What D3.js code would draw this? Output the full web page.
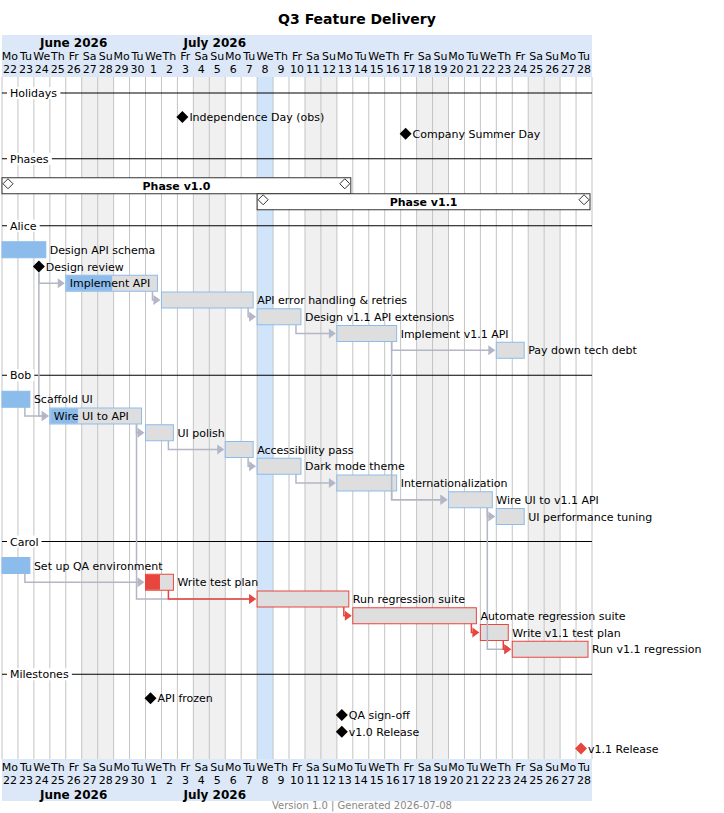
<!DOCTYPE html>
<html><head><meta charset="utf-8">
<script src="https://cdn.jsdelivr.net/npm/d3@7"></script>
<style>body{margin:0;background:#fff;font-family:"DejaVu Sans",sans-serif}</style>
</head><body><div id="chart"></div>
<script>
const startDate = "2026-06-22", endDate = "2026-07-29", todayDate = "2026-07-08";
const holidays = [["Independence Day (obs)", "2026-07-03"], ["Company Summer Day", "2026-07-17"]];
const phases = [["Phase v1.0", "2026-06-22", "2026-07-13"], ["Phase v1.1", "2026-07-08", "2026-07-28"]];
// [id, name, start, end(inclusive), complete %, critical]
const aliceTasks = [
  ["das", "Design API schema", "2026-06-22", "2026-06-24", 100, false],
  ["dr", "Design review", "2026-06-24", null, 0, false],
  ["ia", "Implement API", "2026-06-26", "2026-07-01", 50, false],
  ["aeh", "API error handling & retries", "2026-07-02", "2026-07-07", 0, false],
  ["d11", "Design v1.1 API extensions", "2026-07-08", "2026-07-10", 0, false],
  ["i11", "Implement v1.1 API", "2026-07-13", "2026-07-16", 0, false],
  ["ptd", "Pay down tech debt", "2026-07-23", "2026-07-24", 0, false]
];
const bobTasks = [
  ["sui", "Scaffold UI", "2026-06-22", "2026-06-23", 100, false],
  ["wui", "Wire UI to API", "2026-06-25", "2026-06-30", 30, false],
  ["uip", "UI polish", "2026-07-01", "2026-07-02", 0, false],
  ["acc", "Accessibility pass", "2026-07-06", "2026-07-07", 0, false],
  ["dmt", "Dark mode theme", "2026-07-08", "2026-07-10", 0, false],
  ["i18n", "Internationalization", "2026-07-13", "2026-07-16", 0, false],
  ["w11", "Wire UI to v1.1 API", "2026-07-20", "2026-07-22", 0, false],
  ["upt", "UI performance tuning", "2026-07-23", "2026-07-24", 0, false]
];
const carolTasks = [
  ["qae", "Set up QA environment", "2026-06-22", "2026-06-23", 100, false],
  ["wtp", "Write test plan", "2026-07-01", "2026-07-02", 50, true],
  ["rrs", "Run regression suite", "2026-07-08", "2026-07-13", 0, true],
  ["ars", "Automate regression suite", "2026-07-14", "2026-07-21", 0, true],
  ["w11tp", "Write v1.1 test plan", "2026-07-22", "2026-07-23", 0, true],
  ["r11", "Run v1.1 regression", "2026-07-24", "2026-07-28", 0, true]
];
const milestones = [
  ["apf", "API frozen", "2026-07-01", null, 0, false],
  ["qas", "QA sign-off", "2026-07-13", null, 0, false],
  ["v10", "v1.0 Release", "2026-07-13", null, 0, false],
  ["v11", "v1.1 Release", "2026-07-28", null, 0, true]
];
const links = [
  ["dr", "ia"], ["dr", "wui"], ["sui", "wui"], ["ia", "aeh"], ["aeh", "d11"], ["d11", "i11"],
  ["i11", "ptd"], ["i11", "w11"], ["wui", "uip"], ["wui", "rrs"], ["uip", "acc"], ["acc", "dmt"],
  ["dmt", "i18n"], ["i18n", "w11"], ["w11", "upt"], ["w11", "r11"], ["qae", "wtp"],
  ["wtp", "rrs"], ["rrs", "ars"], ["ars", "w11tp"], ["w11tp", "r11"]
];
const dayNames = ["Su", "Mo", "Tu", "We", "Th", "Fr", "Sa"];
const monthLabels = [["June 2026", "2026-06-22", "2026-07-01"], ["July 2026", "2026-07-01", "2026-07-29"]];

const W = 724, H = 813;
const parse = d3.utcParse("%Y-%m-%d");
const days = d3.utcDay.range(parse(startDate), parse(endDate));
const x = d3.scaleUtc().domain([parse(startDate), parse(endDate)]).range([2, 592]);
const dw = x(days[1]) - x(days[0]);
const nextDay = s => d3.utcDay.offset(parse(s), 1);
const gridTop = 77, gridBottom = 759;

const svg = d3.select("#chart").append("svg").attr("width", W).attr("height", H)
  .style("font-family", "DejaVu Sans, sans-serif");

svg.append("text").attr("x", W / 2 - 5).attr("y", 24).attr("text-anchor", "middle")
  .attr("font-size", 14).attr("font-weight", "bold").text("Q3 Feature Delivery");

// day columns
const g = svg.append("g");
g.selectAll("rect.day").data(days).join("rect")
  .attr("x", d => x(d)).attr("y", gridTop).attr("width", dw).attr("height", gridBottom - gridTop)
  .attr("fill", d => +d === +parse(todayDate) ? "#d0e4fa" : (d.getUTCDay() % 6 === 0 ? "#f0f0f0" : "#fff"));
g.selectAll("line.grid").data(days.concat([parse(endDate)])).join("line")
  .attr("x1", d => x(d)).attr("x2", d => x(d)).attr("y1", gridTop).attr("y2", gridBottom)
  .attr("stroke", "#c4c4c4").attr("stroke-width", 1);

// headers
function header(y0, atTop) {
  const h = svg.append("g");
  h.append("rect").attr("x", 2).attr("y", y0).attr("width", x(parse(endDate)) - 2).attr("height", 42).attr("fill", "#dce8f7");
  const mY = atTop ? y0 + 12 : y0 + 40, dnY = atTop ? y0 + 25 : y0 + 12, dY = atTop ? y0 + 38 : y0 + 25;
  monthLabels.forEach(([m, a]) => h.append("text").attr("x", x(parse(a)) + 38).attr("y", mY)
    .attr("font-size", 12).attr("font-weight", "bold").text(m));
  h.selectAll("text.dn").data(days).join("text").attr("class", "dn")
    .attr("x", d => x(d) + dw / 2).attr("y", dnY).attr("text-anchor", "middle").attr("font-size", 11)
    .text(d => dayNames[d.getUTCDay()]);
  h.selectAll("text.dd").data(days).join("text").attr("class", "dd")
    .attr("x", d => x(d) + dw / 2).attr("y", dY).attr("text-anchor", "middle").attr("font-size", 11)
    .text(d => d.getUTCDate());
}
header(35, true);
header(gridBottom, false);

// layout rows
const sections = [
  ["Holidays", holidays.map(h => ["h_" + h[1], h[0], h[1], null, 0, false])],
  ["Phases", []],
  ["Alice", aliceTasks], ["Bob", bobTasks], ["Carol", carolTasks], ["Milestones", milestones]
];
const pos = {};
let y = 93;
const step = 16.75;
const marks = svg.append("g"), labels = svg.append("g");
sections.forEach(([name, items]) => {
  marks.append("line").attr("x1", 2).attr("x2", 592).attr("y1", y).attr("y2", y).attr("stroke", "#000");
  const t = labels.append("text").attr("x", 10).attr("y", y + 4).attr("font-size", 11).text(name);
  const bb = t.node().getBBox();
  marks.append("rect").attr("x", 7).attr("y", y - 6).attr("width", bb.width + 6).attr("height", 12).attr("fill", "#fff");
  if (name === "Phases") {
    y += 27;
    phases.forEach(([pn, a, b]) => {
      const x0 = x(parse(a)), x1 = x(nextDay(b)) - 2;
      marks.append("rect").attr("x", x0).attr("y", y - 8).attr("width", x1 - x0).attr("height", 16)
        .attr("fill", "#fff").attr("stroke", "#333");
      [x0 + 6, x1 - 6].forEach(cx => marks.append("path")
        .attr("d", `M${cx},${y - 7}l5,5l-5,5l-5,-5z`).attr("fill", "#fff").attr("stroke", "#333"));
      labels.append("text").attr("x", (x0 + x1) / 2).attr("y", y + 4).attr("text-anchor", "middle")
        .attr("font-size", 11).attr("font-weight", "bold").text(pn);
      y += 16;
    });
    y += 8;
    return;
  }
  y += 24;
  items.forEach(([id, label, a, b, pct, crit]) => {
    if (b) {
      const x0 = x(parse(a)), x1 = x(nextDay(b)) - 4;
      pos[id] = { x0, x1, y, crit, ms: false };
      marks.append("rect").attr("x", x0).attr("y", y - 8).attr("width", x1 - x0).attr("height", 16)
        .attr("fill", pct === 100 ? (crit ? "#e8453c" : "#8bbcec") : "#dedede")
        .attr("stroke", crit ? "#e8453c" : "#8bbcec");
      if (pct > 0 && pct < 100) marks.append("rect").attr("x", x0 + 0.5).attr("y", y - 7.5)
        .attr("width", (x1 - x0) * pct / 100).attr("height", 15).attr("fill", crit ? "#e8453c" : "#8bbcec");
      labels.append("text").attr("x", pct > 0 && pct < 100 && !crit ? x0 + 4 : x1 + 4).attr("y", y + 4)
        .attr("font-size", 11).text(label);
    } else {
      const cx = x(parse(a)) + dw / 2 - 3;
      pos[id] = { x0: cx, x1: cx, y, crit, ms: true };
      marks.append("path").attr("d", `M${cx},${y - 6}l6,6l-6,6l-6,-6z`).attr("fill", crit ? "#e8453c" : "#000");
      labels.append("text").attr("x", cx + 7).attr("y", y + 4).attr("font-size", 11).text(label);
    }
    y += step;
  });
  y += 25 - step;
});

// dependency links
const lg = marks.append("g");
links.forEach(([s, t]) => {
  const a = pos[s], b = pos[t];
  const col = a.crit && b.crit ? "#e8453c" : "#b3b6c6";
  const sx = a.ms ? a.x0 : a.x1 - 5, sy = a.ms ? a.y + 6 : a.y + 8;
  const ex = b.x0 - 1;
  lg.append("path").attr("d", `M${sx},${sy}V${b.y}H${ex - 6}`).attr("fill", "none")
    .attr("stroke", col).attr("stroke-width", 1.5);
  lg.append("path").attr("d", `M${ex},${b.y}l-7,-5v10z`).attr("fill", col);
});

svg.append("text").attr("x", 362).attr("y", 809).attr("text-anchor", "middle").attr("font-size", 10)
  .attr("fill", "#888").text("Version 1.0  |  Generated 2026-07-08");
</script></body></html>
